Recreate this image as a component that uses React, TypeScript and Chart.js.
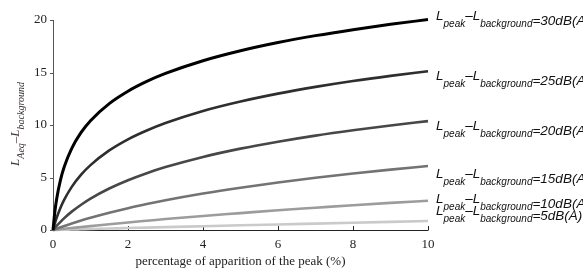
import React, { useEffect, useRef } from "react";
import { Chart, registerables } from "chart.js";

Chart.register(...registerables);

const xs = [0, 0.05, 0.1, 0.2, 0.3, 0.5, 0.75, 1, 1.5, 2, 2.5, 3, 4, 5, 6, 7, 8, 9, 10];
const db30 = [0, 1.76, 3.01, 4.77, 6.02, 7.78, 9.29, 10.41, 12.04, 13.22, 14.15, 14.91, 16.12, 17.07, 17.85, 18.51, 19.08, 19.59, 20.04];
const db25 = [0, 0.64, 1.19, 2.12, 2.89, 4.11, 5.27, 6.18, 7.58, 8.64, 9.48, 10.19, 11.34, 12.24, 12.99, 13.63, 14.19, 14.68, 15.12];
const db20 = [0, 0.21, 0.41, 0.78, 1.13, 1.75, 2.41, 2.99, 3.95, 4.74, 5.41, 5.99, 6.96, 7.75, 8.41, 8.99, 9.5, 9.96, 10.37];
const db15 = [0, 0.07, 0.13, 0.26, 0.38, 0.62, 0.9, 1.16, 1.64, 2.08, 2.47, 2.83, 3.47, 4.03, 4.53, 4.97, 5.38, 5.75, 6.09];
const db10 = [0, 0.02, 0.04, 0.08, 0.12, 0.19, 0.28, 0.37, 0.55, 0.72, 0.88, 1.04, 1.34, 1.61, 1.88, 2.12, 2.36, 2.58, 2.79];
const db5 = [0, 0.005, 0.009, 0.019, 0.028, 0.047, 0.07, 0.093, 0.138, 0.184, 0.228, 0.273, 0.36, 0.446, 0.53, 0.61, 0.69, 0.77, 0.85];

const seriesValues = [db30, db25, db20, db15, db10, db5];
const seriesLabels = ["30dB(A)", "25dB(A)", "20dB(A)", "15dB(A)", "10dB(A)", "5dB(A)"];
const xTicks = [0, 2, 4, 6, 8, 10];
const yTicks = [0, 5, 10, 15, 20];
const xTitle = "percentage of apparition of the peak (%)";

const colors = ["#000000", "#2e2e2e", "#474747", "#737373", "#9c9c9c", "#cacaca"];
const widths = [3, 2.6, 2.6, 2.6, 2.6, 2.6];
const labelOffsets = [0, 9, 9, 12, 2, -6];

const SERIF = '"Liberation Serif", "Times New Roman", serif';
const SANS = '"Liberation Sans", Arial, sans-serif';

const decorPlugin = {
  id: "decor",
  beforeDatasetsDraw(chart: any) {
    const ctx = chart.ctx;
    const { left, right, top, bottom } = chart.chartArea;
    const xs_ = chart.scales.x;
    const ys_ = chart.scales.y;
    ctx.save();
    ctx.lineWidth = 1;
    ctx.strokeStyle = "#555";
    ctx.beginPath();
    ctx.moveTo(left + 0.5, top);
    ctx.lineTo(left + 0.5, bottom);
    ctx.stroke();
    yTicks.forEach((v) => {
      const py = Math.round(ys_.getPixelForValue(v)) + 0.5;
      ctx.beginPath();
      ctx.moveTo(left - 3, py);
      ctx.lineTo(left + 0.5, py);
      ctx.stroke();
    });
    ctx.strokeStyle = "#222";
    ctx.beginPath();
    ctx.moveTo(left, bottom + 0.5);
    ctx.lineTo(right, bottom + 0.5);
    ctx.stroke();
    xTicks.forEach((v) => {
      const px = Math.round(xs_.getPixelForValue(v)) + 0.5;
      ctx.beginPath();
      ctx.moveTo(px, bottom + 0.5);
      ctx.lineTo(px, bottom - 4);
      ctx.stroke();
    });
    ctx.restore();
  },
  afterDraw(chart: any) {
    const ctx = chart.ctx;
    const { right } = chart.chartArea;
    const ys_ = chart.scales.y;
    ctx.save();
    ctx.fillStyle = "#111";
    ctx.textBaseline = "alphabetic";
    ctx.textAlign = "left";
    seriesValues.forEach((vals, i) => {
      const last = vals[vals.length - 1];
      const b = Math.round(ys_.getPixelForValue(last)) + labelOffsets[i];
      let x = right + 8;
      const big = `italic 13.5px ${SANS}`;
      const small = `italic 10px ${SANS}`;
      ctx.font = big;
      ctx.fillText("L", x, b);
      x += ctx.measureText("L").width;
      ctx.font = small;
      ctx.fillText("peak", x, b + 7);
      x += ctx.measureText("peak").width;
      ctx.font = big;
      ctx.fillText("\u2013L", x, b);
      x += ctx.measureText("\u2013L").width;
      ctx.font = small;
      ctx.fillText("background", x, b + 7);
      x += ctx.measureText("background").width;
      ctx.font = big;
      ctx.fillText("=" + seriesLabels[i], x, b + 5);
    });
    // y axis title
    const { top, bottom } = chart.chartArea;
    const cy = (top + bottom) / 2 - 1;
    ctx.translate(19, cy);
    ctx.rotate(-Math.PI / 2);
    ctx.fillStyle = "#3a3030";
    const big = `italic 13px ${SERIF}`;
    const small = `italic 10px ${SERIF}`;
    const parts: [string, boolean][] = [["L", false], ["Aeq", true], ["\u2013L", false], ["background", true]];
    let total = 0;
    parts.forEach(([t, s]) => {
      ctx.font = s ? small : big;
      total += ctx.measureText(t).width;
    });
    let x = -total / 2;
    parts.forEach(([t, s]) => {
      ctx.font = s ? small : big;
      ctx.fillText(t, x, s ? 5 : 0);
      x += ctx.measureText(t).width;
    });
    ctx.restore();
  },
};

export default function App() {
  const ref = useRef<HTMLCanvasElement>(null);
  useEffect(() => {
    if (!ref.current) return;
    const chart = new Chart(ref.current, {
      type: "scatter",
      data: {
        datasets: seriesValues.map((vals, i) => ({
          label: seriesLabels[i],
          data: xs.map((x, j) => ({ x, y: vals[j] })),
          showLine: true,
          borderColor: colors[i],
          backgroundColor: colors[i],
          borderWidth: widths[i],
          pointRadius: 0,
          cubicInterpolationMode: "monotone" as const,
          clip: 4,
        })),
      },
      options: {
        responsive: false,
        animation: false,
        events: [],
        layout: { padding: { top: 20, right: 155, left: 0, bottom: 0 } },
        plugins: { legend: { display: false }, tooltip: { enabled: false } },
        scales: {
          x: {
            type: "linear",
            min: 0,
            max: 10,
            afterBuildTicks: (s: any) => {
              s.ticks = xTicks.map((v) => ({ value: v }));
            },
            afterFit: (s: any) => {
              s.height = 39;
            },
            ticks: { font: { family: SERIF, size: 13 }, color: "#222", padding: 7, maxRotation: 0 },
            grid: { display: false, drawTicks: false },
            border: { display: false },
            title: {
              display: true,
              text: xTitle,
              font: { family: SERIF, size: 13 },
              color: "#222",
              padding: { top: 0, bottom: 0 },
            },
          },
          y: {
            type: "linear",
            min: 0,
            max: 20,
            afterBuildTicks: (s: any) => {
              s.ticks = yTicks.map((v) => ({ value: v }));
            },
            afterFit: (s: any) => {
              s.width = 53;
            },
            ticks: { font: { family: SERIF, size: 13 }, color: "#222", padding: 6 },
            grid: { display: false, drawTicks: false },
            border: { display: false },
          },
        },
      },
      plugins: [decorPlugin],
    });
    return () => chart.destroy();
  }, []);
  return (
    <div style={{ position: "absolute", left: 0, top: 0, width: 583, height: 269, background: "#fff" }}>
      <canvas ref={ref} width={583} height={269} style={{ display: "block" }} />
    </div>
  );
}
